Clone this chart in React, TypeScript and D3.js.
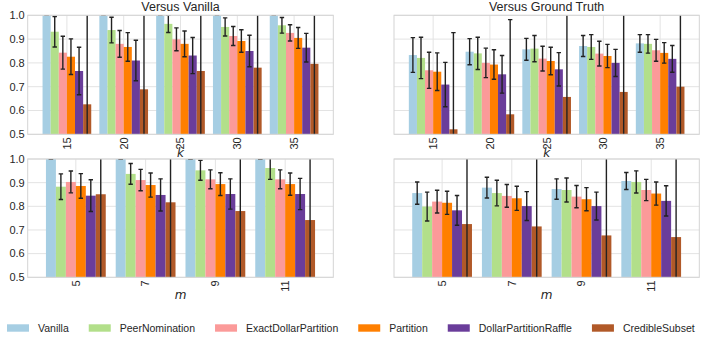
import * as d3 from "d3";

const methods = ["Vanilla", "PeerNomination", "ExactDollarPartition", "Partition", "DollarPartitionRaffle", "CredibleSubset"];
const colors = ["#a6cee3", "#b2df8a", "#fb9a99", "#ff7f00", "#6a3d9a", "#b15928"];
const kTicks = ["15", "20", "25", "30", "35"];
const mTicks = ["5", "7", "9", "11"];
const yTicks = [0.5, 0.6, 0.7, 0.8, 0.9, 1.0];

// rows follow `methods`, columns follow the k / m ticks
const vanillaKMean = [
  [1, 1, 1, 1, 1],
  [0.931, 0.938, 0.964, 0.951, 0.958],
  [0.843, 0.88, 0.899, 0.913, 0.926],
  [0.826, 0.867, 0.88, 0.892, 0.905],
  [0.766, 0.81, 0.831, 0.85, 0.864],
  [0.626, 0.689, 0.766, 0.78, 0.796],
];
const vanillaKErr = [
  [0, 0, 0, 0, 0],
  [0.064, 0.054, 0.036, 0.038, 0.033],
  [0.069, 0.056, 0.048, 0.04, 0.034],
  [0.075, 0.06, 0.054, 0.047, 0.044],
  [0.1, 0.085, 0.076, 0.066, 0.06],
  [0.45, 0.45, 0.45, 0.45, 0.45],
];

const truthKMean = [
  [0.833, 0.847, 0.857, 0.871, 0.882],
  [0.821, 0.84, 0.86, 0.867, 0.88],
  [0.769, 0.8, 0.818, 0.839, 0.853],
  [0.763, 0.793, 0.808, 0.829, 0.842],
  [0.709, 0.752, 0.773, 0.8, 0.817],
  [0.521, 0.584, 0.657, 0.678, 0.7],
];
const truthKErr = [
  [0.073, 0.055, 0.046, 0.044, 0.037],
  [0.087, 0.068, 0.055, 0.052, 0.039],
  [0.076, 0.062, 0.052, 0.052, 0.046],
  [0.079, 0.062, 0.058, 0.049, 0.043],
  [0.093, 0.079, 0.07, 0.057, 0.056],
  [0.406, 0.398, 0.4, 0.4, 0.4],
];

const vanillaMMean = [
  [1, 1, 1, 1],
  [0.883, 0.937, 0.952, 0.962],
  [0.903, 0.911, 0.914, 0.914],
  [0.886, 0.89, 0.894, 0.894],
  [0.845, 0.848, 0.852, 0.852],
  [0.851, 0.817, 0.78, 0.742],
];
const vanillaMErr = [
  [0, 0, 0, 0],
  [0.054, 0.044, 0.042, 0.048],
  [0.046, 0.045, 0.04, 0.04],
  [0.052, 0.051, 0.048, 0.047],
  [0.067, 0.068, 0.064, 0.066],
  [0.45, 0.45, 0.45, 0.45],
];

const truthMMean = [
  [0.856, 0.879, 0.873, 0.907],
  [0.799, 0.856, 0.869, 0.903],
  [0.82, 0.844, 0.841, 0.869],
  [0.815, 0.834, 0.83, 0.854],
  [0.783, 0.801, 0.801, 0.823],
  [0.725, 0.715, 0.677, 0.67],
];
const truthMErr = [
  [0.047, 0.044, 0.043, 0.036],
  [0.061, 0.054, 0.051, 0.047],
  [0.048, 0.048, 0.047, 0.045],
  [0.049, 0.051, 0.049, 0.049],
  [0.063, 0.061, 0.059, 0.064],
  [0.4, 0.4, 0.4, 0.4],
];

const textColor = "#262626";
const gridColor = "#e3e3e3";
const font = "Liberation Sans, Arial, sans-serif";

function Panel({ id, x0, x1, y0, y1, ticks, means, errs, title, xlabel, showY }) {
  const n = ticks.length;
  const x = d3.scaleLinear().domain([-0.69, n - 1 + 0.69]).range([x0, x1]);
  const y = d3.scaleLinear().domain([0.5, 1.0]).range([y1, y0]);
  const unit = x(1) - x(0);
  const bw = unit / 7;
  const cap = 2.2;

  return (
    <g>
      <defs>
        <clipPath id={id}>
          <rect x={x0} y={y0} width={x1 - x0} height={y1 - y0} />
        </clipPath>
      </defs>
      {yTicks.map((t) => (
        <line key={`gy${t}`} x1={x0} x2={x1} y1={y(t)} y2={y(t)} stroke={gridColor} strokeWidth={1} />
      ))}
      {ticks.map((t, i) => (
        <line key={`gx${t}`} x1={x(i)} x2={x(i)} y1={y0} y2={y1} stroke={gridColor} strokeWidth={1} />
      ))}
      <g clipPath={`url(#${id})`}>
        {methods.map((m, mi) =>
          ticks.map((t, i) => {
            const left = x(i) + (mi - 3) * bw;
            return (
              <rect
                key={`b${m}${t}`}
                x={left}
                y={y(means[mi][i])}
                width={bw}
                height={y(0.5) - y(means[mi][i])}
                fill={colors[mi]}
              />
            );
          })
        )}
        {methods.map((m, mi) =>
          ticks.map((t, i) => {
            const cx = x(i) + (mi - 2.5) * bw;
            const hi = y(means[mi][i] + errs[mi][i]);
            const lo = y(means[mi][i] - errs[mi][i]);
            return (
              <g key={`e${m}${t}`} stroke="#222" strokeWidth={1.4}>
                <line x1={cx} x2={cx} y1={hi} y2={lo} />
                <line x1={cx - cap} x2={cx + cap} y1={hi} y2={hi} />
                <line x1={cx - cap} x2={cx + cap} y1={lo} y2={lo} />
              </g>
            );
          })
        )}
      </g>
      <rect x={x0} y={y0} width={x1 - x0} height={y1 - y0} fill="none" stroke="#d4d4d4" strokeWidth={1} />
      {showY &&
        yTicks.map((t) => (
          <text key={`ty${t}`} x={x0 - 3} y={y(t)} dy="0.35em" textAnchor="end" fontSize={11} fill={textColor} fontFamily={font}>
            {d3.format(".1f")(t)}
          </text>
        ))}
      {ticks.map((t, i) => (
        <text
          key={`tx${t}`}
          transform={`translate(${x(i)},${y1 + 3}) rotate(-90)`}
          dy="0.35em"
          textAnchor="end"
          fontSize={11}
          fill={textColor}
          fontFamily={font}
        >
          {t}
        </text>
      ))}
      {title && (
        <text x={(x0 + x1) / 2} y={y0 - 4} textAnchor="middle" fontSize={12.5} fill={textColor} fontFamily={font}>
          {title}
        </text>
      )}
      <text x={(x0 + x1) / 2} y={xlabel === "k" ? y1 + 23 : y1 + 22} textAnchor="middle" fontSize={12} fontStyle="italic" fill={textColor} fontFamily="DejaVu Sans">
        {xlabel}
      </text>
    </g>
  );
}

function Legend() {
  const ctx = document.createElement("canvas").getContext("2d");
  ctx.font = `10.5px ${font}`;
  let cur = 7;
  const items = methods.map((m, i) => {
    const item = { m, i, x: cur };
    cur += 30 + ctx.measureText(m).width + 21;
    return item;
  });
  return (
    <g>
      {items.map((d) => (
        <g key={d.m}>
          <rect x={d.x} y={324.3} width={22} height={7.4} fill={colors[d.i]} />
          <text x={d.x + 31} y={328} dy="0.35em" fontSize={10.5} fill={textColor} fontFamily={font}>
            {d.m}
          </text>
        </g>
      ))}
    </g>
  );
}

export default function App() {
  return (
    <svg width={706} height={342} style={{ position: "absolute", left: 0, top: 0, background: "#fff" }}>
      <Panel id="c1" x0={27.7} x1={333.3} y0={15.3} y1={134.3} ticks={kTicks} means={vanillaKMean} errs={vanillaKErr} title="Versus Vanilla" xlabel="k" showY />
      <Panel id="c2" x0={394} x1={699.3} y0={15.3} y1={134.3} ticks={kTicks} means={truthKMean} errs={truthKErr} title="Versus Ground Truth" xlabel="k" showY={false} />
      <Panel id="c3" x0={27.7} x1={333.3} y0={159} y1={277.3} ticks={mTicks} means={vanillaMMean} errs={vanillaMErr} title={null} xlabel="m" showY />
      <Panel id="c4" x0={394} x1={699.3} y0={159} y1={277.3} ticks={mTicks} means={truthMMean} errs={truthMErr} title={null} xlabel="m" showY={false} />
      <Legend />
    </svg>
  );
}
